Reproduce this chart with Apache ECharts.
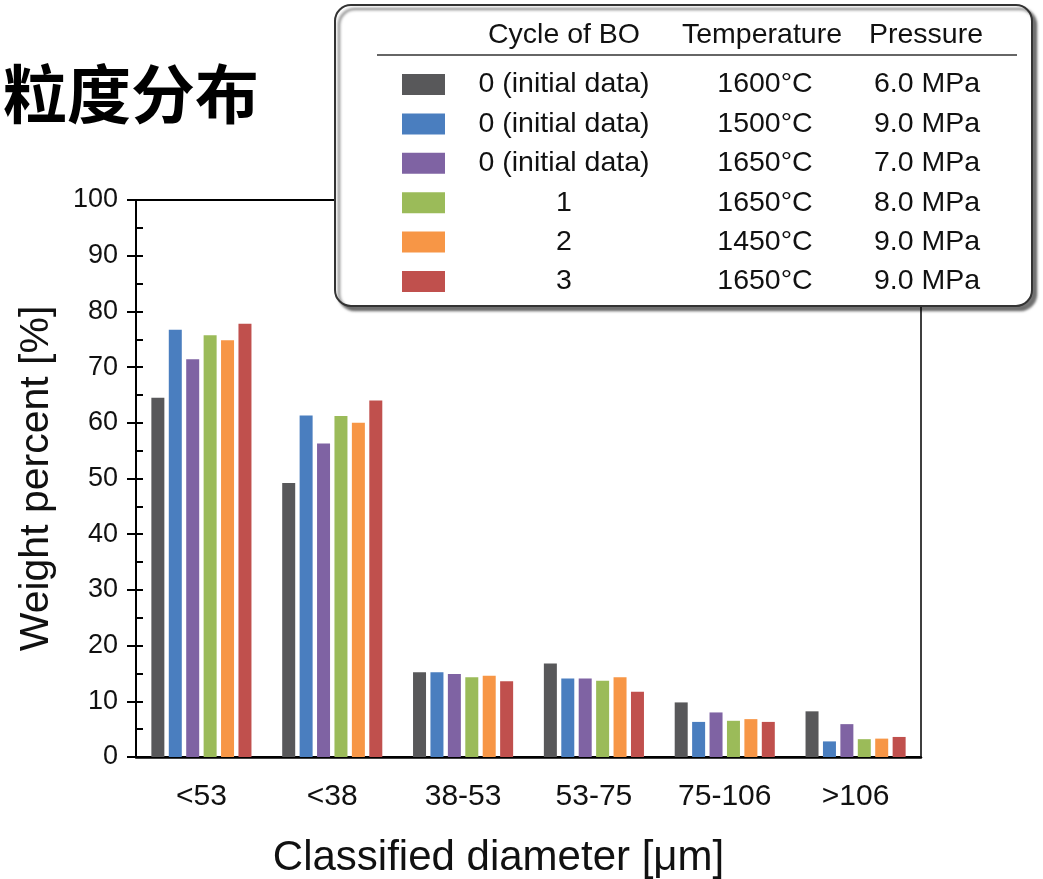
<!DOCTYPE html>
<html>
<head>
<meta charset="utf-8">
<script src="https://cdn.jsdelivr.net/npm/echarts@6/dist/echarts.min.js"></script>
<style>
html,body{margin:0;padding:0;background:#fff;}
#chart{width:1043px;height:879px;}
</style>
</head>
<body>
<div id="chart"></div>
<script>
// ---- data ----
const categories = ['<53', '<38', '38-53', '53-75', '75-106', '>106'];
const cycles = ['0 (initial data)', '0 (initial data)', '0 (initial data)', '1', '2', '3'];
const temperatures = ['1600°C', '1500°C', '1650°C', '1650°C', '1450°C', '1650°C'];
const pressures = ['6.0 MPa', '9.0 MPa', '7.0 MPa', '8.0 MPa', '9.0 MPa', '9.0 MPa'];
const legendHeaders = ['Cycle of BO', 'Temperature', 'Pressure'];
const seriesGray   = [64.5, 49.2, 15.2, 16.8, 9.8, 8.2];
const seriesBlue   = [76.7, 61.3, 15.2, 14.1, 6.3, 2.8];
const seriesPurple = [71.4, 56.3, 14.9, 14.1, 8.0, 5.9];
const seriesGreen  = [75.7, 61.2, 14.3, 13.7, 6.5, 3.2];
const seriesOrange = [74.8, 60.0, 14.6, 14.3, 6.8, 3.3];
const seriesRed    = [77.8, 64.0, 13.6, 11.7, 6.3, 3.6];
const yTicks = [0, 10, 20, 30, 40, 50, 60, 70, 80, 90, 100];
const titleText = '粒度分布';
const xName = 'Classified diameter [μm]';
const yName = 'Weight percent [%]';

// ---- styles ----
const allValues = [seriesGray, seriesBlue, seriesPurple, seriesGreen, seriesOrange, seriesRed];
const colors = ['#58585a', '#4a7ebf', '#7f63a3', '#9bbb59', '#f79646', '#c0504d'];
const FONT = '"Liberation Sans", Arial, Helvetica, sans-serif';
const LFS = 28.5;

const chart = echarts.init(document.getElementById('chart'), null, {renderer: 'canvas'});

const series = allValues.map((vals, i) => ({
  name: cycles[i] + '|' + temperatures[i] + '|' + pressures[i],
  type: 'bar',
  data: vals,
  barWidth: 13,
  barGap: '34%',
  itemStyle: {color: colors[i]},
  emphasis: {disabled: true},
  animation: false
}));

const richCol = (w) => ({width: w, align: 'center', fontSize: LFS, lineHeight: 22, fontFamily: FONT, color: '#111'});

const option = {
  animation: false,
  textStyle: {fontFamily: FONT},
  title: {
    text: titleText,
    left: -2,
    top: 57,
    textStyle: {fontFamily: '"Noto Sans CJK SC", sans-serif', fontSize: 64, fontWeight: 'bold', color: '#000'}
  },
  grid: {
    left: 136, top: 200, width: 785, height: 557,
    containLabel: false,
    outerBoundsMode: 'none',
    show: true, borderColor: '#000', borderWidth: 2, backgroundColor: 'transparent'
  },
  legend: {
    left: 335, top: 5,
    orient: 'vertical',
    icon: 'rect',
    itemWidth: 43, itemHeight: 21, itemGap: 10.4,
    padding: [65, 30, 10, 67],
    backgroundColor: '#fff',
    borderColor: '#333', borderWidth: 2, borderRadius: 16,
    shadowBlur: 3, shadowColor: 'rgba(0,0,0,0.55)', shadowOffsetX: 4, shadowOffsetY: 4,
    selectedMode: false,
    formatter: function (name) {
      const p = name.split('|');
      return '{a|' + p[0] + '}{b|' + p[1] + '}{c|' + p[2] + '}';
    },
    textStyle: {
      fontFamily: FONT, fontSize: LFS, color: '#111',
      rich: {a: richCol(228), b: richCol(174), c: richCol(150)}
    }
  },
  graphic: {
    elements: [
      {type: 'text', z: 100, x: 564, y: 35, style: {text: legendHeaders[0], font: LFS + 'px ' + FONT, fill: '#111', textAlign: 'center', textVerticalAlign: 'middle'}},
      {type: 'text', z: 100, x: 762, y: 35, style: {text: legendHeaders[1], font: LFS + 'px ' + FONT, fill: '#111', textAlign: 'center', textVerticalAlign: 'middle'}},
      {type: 'text', z: 100, x: 926, y: 35, style: {text: legendHeaders[2], font: LFS + 'px ' + FONT, fill: '#111', textAlign: 'center', textVerticalAlign: 'middle'}},
      {type: 'line', z: 100, shape: {x1: 377, y1: 55, x2: 1017, y2: 55}, style: {stroke: '#333', lineWidth: 1.5}}
    ]
  },
  xAxis: {
    type: 'category',
    data: categories,
    axisLine: {show: true, lineStyle: {color: '#000', width: 2.5}},
    axisTick: {show: false},
    splitLine: {show: true, interval: function (idx) { return idx === 1; }, lineStyle: {color: '#555', width: 1.5}},
    axisLabel: {fontSize: 30, color: '#111', margin: 25, fontFamily: FONT, interval: 0},
    name: xName,
    nameLocation: 'middle',
    nameGap: 80,
    nameTextStyle: {fontSize: 42, color: '#111', fontFamily: FONT, padding: [0, 60, 0, 0]}
  },
  yAxis: [
    {
      type: 'value', min: 0, max: 100, interval: 10,
      position: 'left',
      axisLine: {show: true, lineStyle: {color: '#000', width: 2}},
      axisTick: {show: true, inside: false, length: 9, lineStyle: {color: '#000', width: 2}},
      splitLine: {show: false},
      axisLabel: {
        fontSize: 27, color: '#111', margin: 18, fontFamily: FONT,
        formatter: function (v) { return yTicks.indexOf(v) >= 0 ? String(v) : ''; }
      },
      name: yName,
      nameLocation: 'middle',
      nameGap: 79,
      nameRotate: 90,
      nameTextStyle: {fontSize: 41, color: '#111', fontFamily: FONT}
    },
    {
      type: 'value', min: 0, max: 100, interval: 10,
      position: 'left', offset: 0,
      axisLine: {show: false},
      axisTick: {show: true, inside: true, length: 7, lineStyle: {color: '#000', width: 2}},
      minorTick: {show: true, splitNumber: 2, length: 7, lineStyle: {color: '#000', width: 2}},
      splitLine: {show: false},
      minorSplitLine: {show: false},
      axisLabel: {show: false}
    }
  ],
  series: series
};

chart.setOption(option);
</script>
</body>
</html>
